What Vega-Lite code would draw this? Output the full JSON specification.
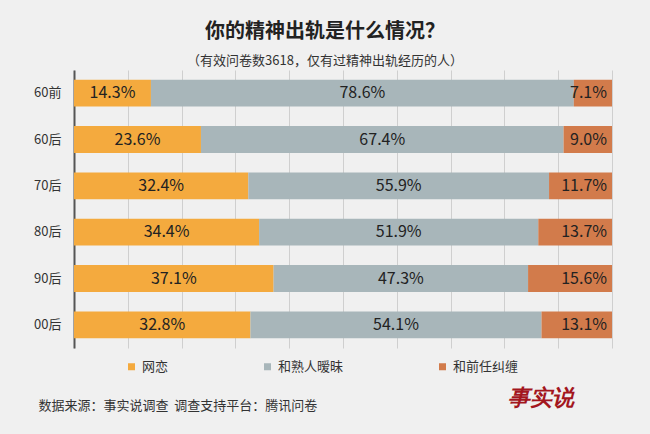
{
  "$schema": "https://vega.github.io/schema/vega-lite/v6.json",
  "width": 538,
  "height": 278,
  "autosize": {"type": "none"},
  "padding": {"left": 74, "top": 70, "right": 38, "bottom": 86},
  "background": "#F0F0F0",
  "config": {
    "font": "Noto Sans CJK SC",
    "view": {"stroke": null}
  },
  "title": {
    "text": "你的精神出轨是什么情况？",
    "subtitle": "（有效问卷数3618，仅有过精神出轨经历的人）",
    "anchor": "middle",
    "dx": -18,
    "fontSize": 20,
    "fontWeight": "bold",
    "color": "#222222",
    "subtitleFontSize": 13,
    "subtitleColor": "#333333",
    "subtitlePadding": 13,
    "offset": 2
  },
  "data": {
    "values": [
      {"cat": "60前", "type": "网恋", "rank": 1, "value": 0.143},
      {"cat": "60前", "type": "和熟人暧昧", "rank": 2, "value": 0.786},
      {"cat": "60前", "type": "和前任纠缠", "rank": 3, "value": 0.071},
      {"cat": "60后", "type": "网恋", "rank": 1, "value": 0.236},
      {"cat": "60后", "type": "和熟人暧昧", "rank": 2, "value": 0.674},
      {"cat": "60后", "type": "和前任纠缠", "rank": 3, "value": 0.090},
      {"cat": "70后", "type": "网恋", "rank": 1, "value": 0.324},
      {"cat": "70后", "type": "和熟人暧昧", "rank": 2, "value": 0.559},
      {"cat": "70后", "type": "和前任纠缠", "rank": 3, "value": 0.117},
      {"cat": "80后", "type": "网恋", "rank": 1, "value": 0.344},
      {"cat": "80后", "type": "和熟人暧昧", "rank": 2, "value": 0.519},
      {"cat": "80后", "type": "和前任纠缠", "rank": 3, "value": 0.137},
      {"cat": "90后", "type": "网恋", "rank": 1, "value": 0.371},
      {"cat": "90后", "type": "和熟人暧昧", "rank": 2, "value": 0.473},
      {"cat": "90后", "type": "和前任纠缠", "rank": 3, "value": 0.156},
      {"cat": "00后", "type": "网恋", "rank": 1, "value": 0.328},
      {"cat": "00后", "type": "和熟人暧昧", "rank": 2, "value": 0.541},
      {"cat": "00后", "type": "和前任纠缠", "rank": 3, "value": 0.131}
    ]
  },
  "transform": [
    {"stack": "value", "groupby": ["cat"], "sort": [{"field": "rank", "order": "ascending"}], "as": ["x0", "x1"]},
    {"calculate": "(datum.x0 + datum.x1) / 2", "as": "mid"}
  ],
  "encoding": {
    "y": {
      "field": "cat",
      "type": "nominal",
      "sort": ["60前", "60后", "70后", "80后", "90后", "00后"],
      "scale": {"paddingInner": 0.42, "paddingOuter": 0.21},
      "axis": {
        "title": "数据来源：事实说调查\u00a0\u00a0调查支持平台：腾讯问卷",
        "titleAngle": 0,
        "titleX": -36,
        "titleY": 335,
        "titleAlign": "left",
        "titleBaseline": "middle",
        "titleFontSize": 13,
        "titleFontWeight": "normal",
        "titleColor": "#333333",
        "domain": true,
        "domainColor": "#555555",
        "domainWidth": 2,
        "ticks": false,
        "grid": false,
        "labelFontSize": 13,
        "labelColor": "#333333",
        "labelPadding": 13
      }
    }
  },
  "layer": [
    {
      "mark": {"type": "bar"},
      "encoding": {
        "x": {
          "field": "x0",
          "type": "quantitative",
          "scale": {"domain": [0, 1], "nice": false},
          "axis": {
            "title": "事实说",
            "titleX": 466,
            "titleY": 49,
            "titleAlign": "center",
            "titleBaseline": "middle",
            "titleFont": "DejaVu Serif",
            "titleFontStyle": "italic",
            "titleFontWeight": "bold",
            "titleFontSize": 22,
            "titleColor": "#A3161E",
            "labels": false,
            "ticks": false,
            "domain": false,
            "grid": true,
            "gridColor": "#CFCFCF",
            "tickCount": 10
          }
        },
        "x2": {"field": "x1"},
        "color": {
          "field": "type",
          "type": "nominal",
          "sort": ["网恋", "和熟人暧昧", "和前任纠缠"],
          "scale": {
            "domain": ["网恋", "和熟人暧昧", "和前任纠缠"],
            "range": ["#F4AA3E", "#A8B6BA", "#D27B4B"]
          },
          "legend": {
            "title": null,
            "orient": "none",
            "direction": "horizontal",
            "legendX": 51,
            "legendY": 290,
            "symbolType": "square",
            "symbolSize": 49,
            "symbolStrokeWidth": 0,
            "labelFontSize": 13,
            "labelColor": "#333333",
            "labelOffset": 4,
            "columnPadding": 92
          }
        }
      }
    },
    {
      "transform": [{"filter": "datum.rank < 3"}],
      "mark": {"type": "text", "fontSize": 16, "color": "#222222", "baseline": "middle", "align": "center"},
      "encoding": {
        "x": {"field": "mid", "type": "quantitative"},
        "text": {"field": "value", "type": "quantitative", "format": ".1%"}
      }
    },
    {
      "transform": [{"filter": "datum.rank == 3"}],
      "mark": {"type": "text", "fontSize": 16, "color": "#222222", "baseline": "middle", "align": "right", "dx": -5},
      "encoding": {
        "x": {"field": "x1", "type": "quantitative"},
        "text": {"field": "value", "type": "quantitative", "format": ".1%"}
      }
    }
  ]
}
